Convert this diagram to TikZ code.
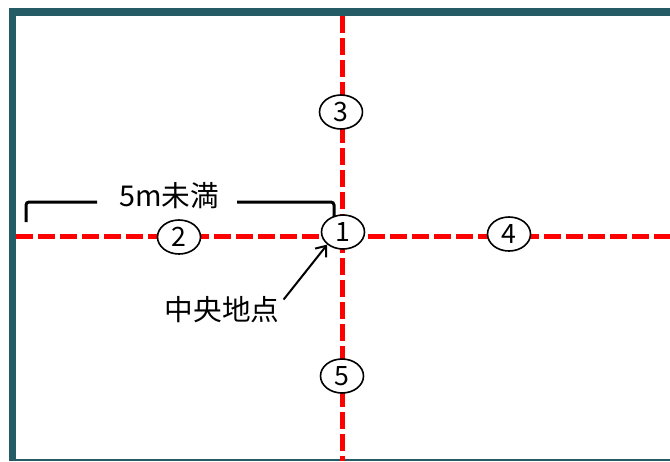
\documentclass[tikz,border=0pt]{standalone}
\usepackage{fontspec}
\newfontfamily\jpfont{Noto Sans CJK JP}
\usetikzlibrary{shapes.geometric,arrows.meta}
\newlength{\du}
\setlength{\du}{0.75pt}
\definecolor{framecolor}{rgb}{0.141000, 0.357000, 0.396000}
\definecolor{axiscolor}{rgb}{1.000000, 0.000000, 0.000000}
\tikzset{
  axisline/.style={draw=axiscolor,line width=5\du,dash pattern=on 17\du off 5\du},
  pointmark/.style={ellipse,draw=black,fill=white,line width=1.6\du,inner sep=0pt,
    minimum width=43\du,minimum height=34\du,font=\jpfont\fontsize{20pt}{20pt}\selectfont},
  labeltext/.style={inner sep=0pt,font=\jpfont\fontsize{21.5pt}{21.5pt}\selectfont},
  bracket/.style={draw=black,line width=3\du,rounded corners=3\du},
  pointer/.style={draw=black,line width=2\du,-{Straight Barb[length=6.75pt,width=10.5pt]}}
}

\begin{document}
\begin{tikzpicture}
\pgftransformyscale{-1.000000}
\useasboundingbox (0\du,0\du) rectangle (670\du,461\du);
% frame
\fill[framecolor] (9\du,8\du) rectangle (16\du,461\du);
\fill[framecolor] (9\du,8\du) rectangle (670\du,16\du);
\fill[framecolor] (9\du,459\du) rectangle (670\du,461\du);
% axes
\coordinate (axtop) at (342\du,16\du);
\coordinate (axbottom) at (342\du,461\du);
\coordinate (axleft) at (16\du,236\du);
\coordinate (axright) at (670\du,236\du);
\draw[axisline] (axtop) -- (axbottom);
\draw[axisline] (axleft) -- (axright);
% measuring points
\node[pointmark] (p1) at (343\du,232\du) {1};
\node[pointmark] (p2) at (179\du,237\du) {2};
\node[pointmark] (p3) at (341\du,112\du) {3};
\node[pointmark] (p4) at (509\du,234\du) {4};
\node[pointmark] (p5) at (342\du,376\du) {5};
% distance
\node[labeltext] (span) at (169\du,196\du) {5m未満};
\coordinate (spanleft) at (26\du,222\du);
\coordinate (spanright) at (334\du,217\du);
\draw[bracket] (spanleft) -- (26\du,202\du) -- (97\du,202\du);
\draw[bracket] (237\du,202\du) -- (334\du,202\du) -- (spanright);
% centre label
\node[labeltext] (centre) at (222\du,310\du) {中央地点};
\draw[pointer] ([xshift=4\du,yshift=3\du]centre.north east) -- (p1.south west);
\end{tikzpicture}
\end{document}
